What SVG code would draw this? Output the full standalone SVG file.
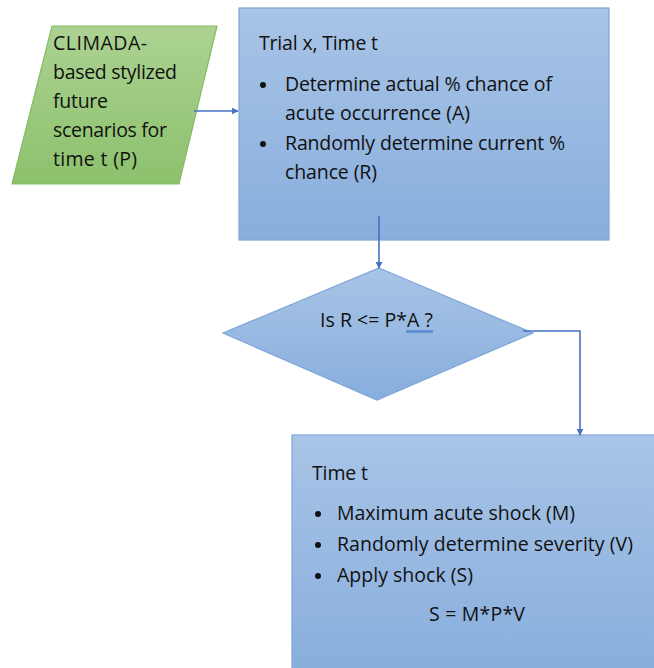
<svg xmlns="http://www.w3.org/2000/svg" width="654" height="668" viewBox="0 0 654 668">
  <defs>
    <linearGradient id="gBlue" x1="0" y1="0" x2="0" y2="1">
      <stop offset="0" stop-color="#a8c4e6"/>
      <stop offset="1" stop-color="#88aedd"/>
    </linearGradient>
    <linearGradient id="gGreen" x1="0" y1="0" x2="0" y2="1">
      <stop offset="0" stop-color="#acd292"/>
      <stop offset="1" stop-color="#8cc16c"/>
    </linearGradient>
    <marker id="arrow" viewBox="0 0 10 10" refX="9" refY="5" markerWidth="7" markerHeight="7" orient="auto" markerUnits="userSpaceOnUse">
      <path d="M0,0 L10,5 L0,10 z" fill="#4472c4"/>
    </marker>
    <style>
      .blue { fill: url(#gBlue); stroke: #7ea6d9; stroke-width: 1.2; }
      .green { fill: url(#gGreen); stroke: #86bb63; stroke-width: 1.2; }
      .t { font-family: "Open Sans", "Liberation Sans", sans-serif; font-size: 19.5px; fill: #111111; }
      .bullet { fill: #111111; }
      .conn { fill: none; stroke: #4472c4; stroke-width: 1.6; }
    </style>
  </defs>

  <!-- Input parallelogram -->
  <g id="input">
    <polygon class="green" points="52,26 217,26 179,184 12,184"/>
    <text class="t" x="53" y="50" textLength="94">CLIMADA-</text>
    <text class="t" x="53" y="79" textLength="124">based stylized</text>
    <text class="t" x="53" y="108" textLength="55">future</text>
    <text class="t" x="53" y="137" textLength="114">scenarios for</text>
    <text class="t" x="53" y="166" textLength="84">time t (P)</text>
  </g>

  <!-- Trial box -->
  <g id="trial">
    <rect class="blue" x="239" y="8" width="370" height="232"/>
    <text class="t" x="259" y="50" textLength="119">Trial x, Time t</text>
    <circle class="bullet" cx="263" cy="85" r="3"/>
    <text class="t" x="285" y="91" textLength="267">Determine actual % chance of</text>
    <text class="t" x="285" y="120" textLength="185">acute occurrence (A)</text>
    <circle class="bullet" cx="263" cy="144" r="3"/>
    <text class="t" x="285" y="150" textLength="280">Randomly determine current %</text>
    <text class="t" x="285" y="179" textLength="92">chance (R)</text>
  </g>

  <!-- Decision diamond -->
  <g id="decision">
    <polygon class="blue" points="379,268 533,333 377,400 223,333"/>
    <text class="t" x="320" y="327" textLength="113">Is R &lt;= P*A ?</text>
    <line x1="406" y1="331.5" x2="433" y2="331.5" stroke="#5b8ad6" stroke-width="2.6"/>
  </g>

  <!-- Shock box -->
  <g id="shock">
    <rect class="blue" x="292" y="435" width="370" height="240"/>
    <text class="t" x="312" y="480" textLength="56">Time t</text>
    <circle class="bullet" cx="318" cy="514" r="3"/>
    <text class="t" x="337" y="520" textLength="238">Maximum acute shock (M)</text>
    <circle class="bullet" cx="318" cy="545" r="3"/>
    <text class="t" x="337" y="551" textLength="296">Randomly determine severity (V)</text>
    <circle class="bullet" cx="318" cy="576" r="3"/>
    <text class="t" x="337" y="582" textLength="136">Apply shock (S)</text>
    <text class="t" x="429" y="621" textLength="96">S = M*P*V</text>
  </g>

  <!-- Connectors -->
  <g id="connectors">
    <path class="conn" d="M194,111 H238" marker-end="url(#arrow)"/>
    <path class="conn" d="M379,216 V268" marker-end="url(#arrow)"/>
    <path class="conn" d="M523,331 H580 V435" marker-end="url(#arrow)"/>
  </g>
</svg>
